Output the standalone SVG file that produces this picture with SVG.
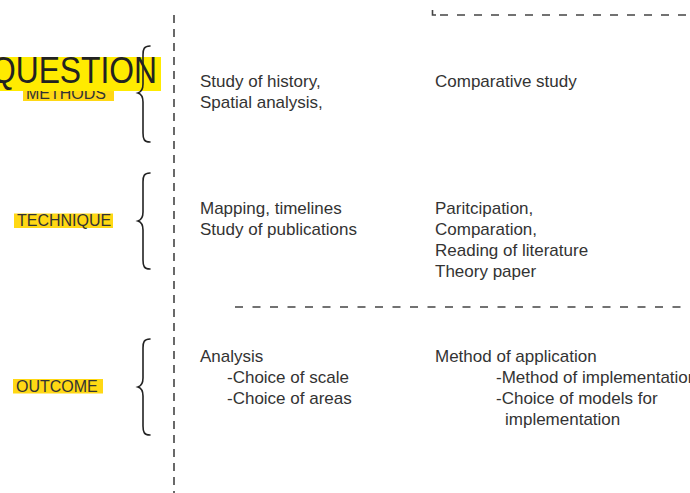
<svg xmlns="http://www.w3.org/2000/svg" width="690" height="493" viewBox="0 0 690 493">
<style>
.t{font-family:"Liberation Sans",Arial,sans-serif;font-size:17px;fill:#333}
.lab{font-family:"Liberation Sans",Arial,sans-serif;font-size:16px;fill:#333}
.hl{fill:#FFD814}
.brace{fill:none;stroke:#222;stroke-width:1.6;stroke-linecap:round}
.dash{fill:none;stroke:#444;stroke-width:1.6}
</style>
<rect width="690" height="493" fill="#fff"/>
<g id="connectors">
<line class="dash" x1="174" y1="15" x2="174" y2="493" stroke-dasharray="8 6"/>
<line class="dash" x1="235" y1="307" x2="690" y2="307" stroke-dasharray="8 9.5"/>
<line class="dash" x1="440" y1="15" x2="690" y2="15" stroke-dasharray="8 9"/>
<path class="dash" d="M432.5,10 V15 H436"/>
</g>
<g id="methods-label">
<rect class="hl" x="23" y="88" width="91" height="13"/>
<text class="lab" x="26" y="99">METHODS</text>
</g>
<g id="question-label">
<rect x="0" y="57" width="161" height="34" fill="#FFEB00"/>
<text x="157" y="83" text-anchor="end" textLength="166" lengthAdjust="spacingAndGlyphs" style="font-family:'Liberation Sans',Arial,sans-serif;font-size:37px;fill:#222">QUESTION</text>
</g>
<g id="technique-label">
<rect class="hl" x="14" y="213.5" width="99" height="14.5"/>
<text class="lab" x="17" y="226">TECHNIQUE</text>
</g>
<g id="outcome-label">
<rect class="hl" x="13" y="379" width="90" height="14.5"/>
<text class="lab" x="16" y="391.5">OUTCOME</text>
</g>
<g id="brace-methods">
<path class="brace" d="M150,46 C144,46 143,49 143,55 L143,84 C143,90 141,92 138,93 C141,94 143,96 143,102 L143,133 C143,139 144,142 150,142"/>
</g>
<g id="brace-technique">
<path class="brace" d="M150,173 C144,173 143,176 143,182 L143,212 C143,218 141,220 138,221 C141,222 143,224 143,230 L143,260 C143,266 144,269 150,269"/>
</g>
<g id="brace-outcome">
<path class="brace" d="M150,339 C144,339 143,342 143,348 L143,378 C143,384 141,386 138,387 C141,388 143,390 143,396 L143,426 C143,432 144,435 150,435"/>
</g>
<g id="methods-left">
<text class="t" x="200" y="87">Study of history,</text>
<text class="t" x="200" y="108">Spatial analysis,</text>
</g>
<g id="methods-right">
<text class="t" x="435" y="87">Comparative study</text>
</g>
<g id="technique-left">
<text class="t" x="200" y="214">Mapping, timelines</text>
<text class="t" x="200" y="235">Study of publications</text>
</g>
<g id="technique-right">
<text class="t" x="435" y="214">Paritcipation,</text>
<text class="t" x="435" y="235">Comparation,</text>
<text class="t" x="435" y="256">Reading of literature</text>
<text class="t" x="435" y="277">Theory paper</text>
</g>
<g id="outcome-left">
<text class="t" x="200" y="362">Analysis</text>
<text class="t" x="227" y="383">-Choice of scale</text>
<text class="t" x="227" y="404">-Choice of areas</text>
</g>
<g id="outcome-right">
<text class="t" x="435" y="362">Method of application</text>
<text class="t" x="496" y="383">-Method of implementation</text>
<text class="t" x="496" y="404">-Choice of models for</text>
<text class="t" x="505" y="425">implementation</text>
</g>
</svg>
